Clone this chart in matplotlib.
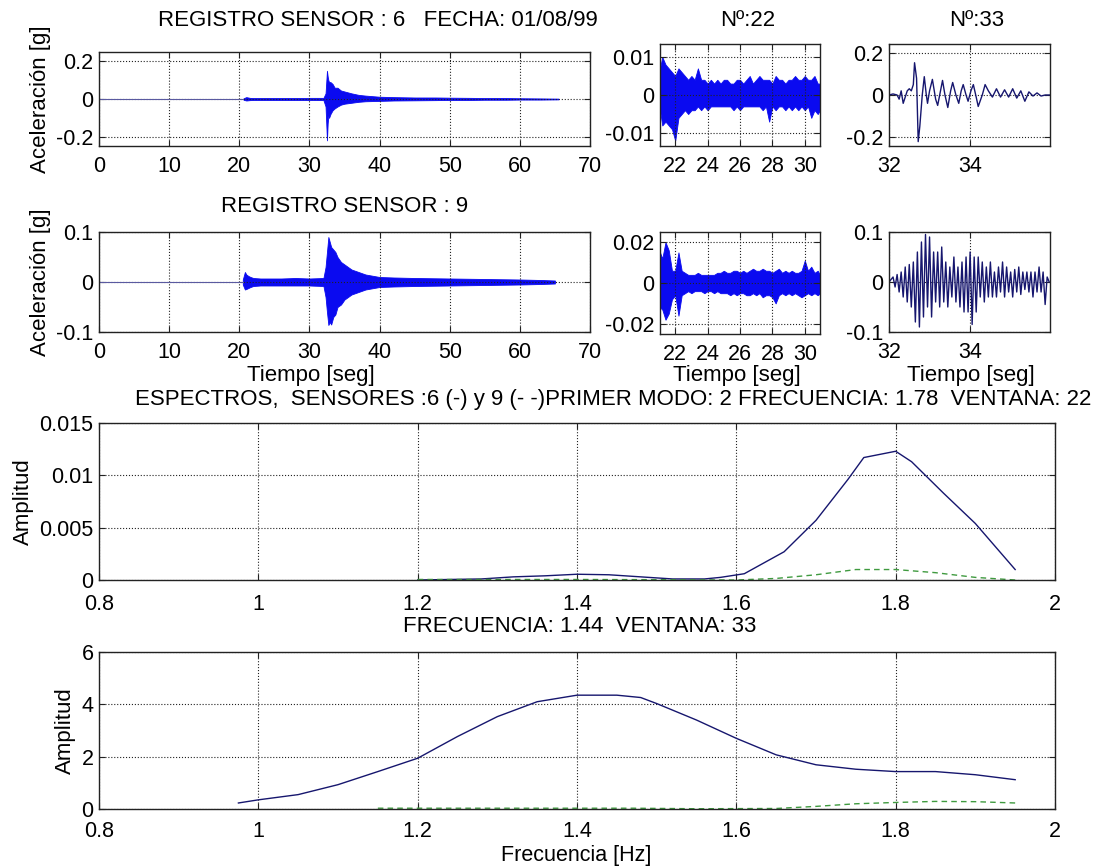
import matplotlib
matplotlib.use("Agg")
import matplotlib.pyplot as plt

plt.rcParams['font.family'] = ['Liberation Sans', 'DejaVu Sans']

# ---- registro completo, sensor 6 (envolvente) ----
t6_flat = [0, 20.6]
t6 = [20.6, 21.0, 21.5, 22, 24, 26, 28, 30, 32.0, 32.3, 32.5, 32.6, 32.7, 32.8, 33.0, 33.3, 33.6,
      34.0, 34.5, 35, 36, 37, 38, 40, 42, 45, 48, 50, 53, 55, 58, 60, 63, 65.5]
up6 = [0.004, 0.01, 0.006, 0.005, 0.005, 0.005, 0.005, 0.006, 0.006, 0.03, 0.15, 0.12, 0.1, 0.09, 0.09,
       0.08, 0.06, 0.06, 0.045, 0.04, 0.03, 0.022, 0.018, 0.012, 0.01, 0.008, 0.008, 0.007, 0.006, 0.005,
       0.005, 0.004, 0.003, 0.002]
lo6 = [-0.004, -0.008, -0.006, -0.005, -0.005, -0.005, -0.005, -0.005, -0.006, -0.04, -0.22, -0.13, -0.09,
       -0.1, -0.08, -0.06, -0.05, -0.04, -0.03, -0.025, -0.02, -0.015, -0.012, -0.01, -0.008, -0.007, -0.006,
       -0.005, -0.005, -0.004, -0.004, -0.003, -0.003, -0.002]

# ---- registro completo, sensor 9 ----
t9_flat = [0, 20.5]
t9 = [20.5, 20.8, 21.0, 21.3, 21.6, 22, 23, 24, 26, 28, 30, 32.0, 32.3, 32.5, 32.7, 32.9, 33.1, 33.4,
      33.7, 34.0, 34.5, 35, 35.5, 36, 37, 38, 40, 42, 45, 50, 55, 60, 63, 65]
up9 = [0.005, 0.02, 0.015, 0.012, 0.01, 0.008, 0.007, 0.007, 0.007, 0.008, 0.007, 0.008, 0.03, 0.06, 0.09,
       0.08, 0.07, 0.065, 0.06, 0.05, 0.04, 0.035, 0.03, 0.025, 0.02, 0.015, 0.01, 0.009, 0.008, 0.007,
       0.006, 0.005, 0.004, 0.003]
lo9 = [-0.005, -0.015, -0.014, -0.012, -0.01, -0.008, -0.007, -0.007, -0.007, -0.007, -0.007, -0.008, -0.03,
       -0.06, -0.086, -0.08, -0.085, -0.07, -0.065, -0.05, -0.045, -0.035, -0.03, -0.025, -0.02, -0.015,
       -0.01, -0.009, -0.008, -0.007, -0.006, -0.005, -0.004, -0.003]

# ---- ventana 22 (envolventes) ----
t22 = [21.06, 21.2, 21.4, 21.6, 21.8, 22.0, 22.2, 22.4, 22.6, 22.8,
       23.0, 23.2, 23.4, 23.6, 23.8, 24.0, 24.2, 24.4, 24.6, 24.8,
       25.0, 25.2, 25.4, 25.6, 25.8, 26.0, 26.2, 26.4, 26.6, 26.8,
       27.0, 27.2, 27.4, 27.6, 27.8, 28.0, 28.2, 28.4, 28.6, 28.8,
       29.0, 29.2, 29.4, 29.6, 29.8, 30.0, 30.2, 30.4, 30.6, 30.8, 30.94]
up22_6 = [0.007, 0.010, 0.008, 0.007, 0.006, 0.005, 0.007, 0.006, 0.005, 0.004,
          0.005, 0.004, 0.007, 0.004, 0.004, 0.003, 0.004, 0.003, 0.004, 0.003,
          0.004, 0.004, 0.003, 0.003, 0.004, 0.004, 0.003, 0.004, 0.005, 0.003,
          0.004, 0.005, 0.004, 0.004, 0.004, 0.003, 0.005, 0.004, 0.004, 0.003,
          0.004, 0.004, 0.005, 0.004, 0.004, 0.005, 0.004, 0.004, 0.005, 0.003, 0.003]
lo22_6 = [-0.004, -0.008, -0.007, -0.008, -0.009, -0.012, -0.006, -0.005, -0.004, -0.005,
          -0.004, -0.004, -0.003, -0.004, -0.003, -0.004, -0.003, -0.003, -0.003, -0.003,
          -0.003, -0.003, -0.003, -0.004, -0.003, -0.004, -0.003, -0.003, -0.003, -0.003,
          -0.003, -0.003, -0.004, -0.003, -0.007, -0.003, -0.004, -0.003, -0.003, -0.004,
          -0.003, -0.004, -0.003, -0.004, -0.003, -0.004, -0.003, -0.006, -0.004, -0.005, -0.004]
up22_9 = [0.015, 0.012, 0.020, 0.016, 0.006, 0.006, 0.015, 0.006, 0.005, 0.004,
          0.004, 0.004, 0.005, 0.004, 0.004, 0.004, 0.004, 0.004, 0.005, 0.005,
          0.006, 0.005, 0.005, 0.006, 0.006, 0.005, 0.006, 0.005, 0.006, 0.007,
          0.006, 0.006, 0.007, 0.006, 0.006, 0.005, 0.006, 0.007, 0.005, 0.006,
          0.005, 0.006, 0.005, 0.005, 0.006, 0.011, 0.006, 0.008, 0.005, 0.006, 0.004]
lo22_9 = [-0.012, -0.013, -0.018, -0.015, -0.008, -0.006, -0.016, -0.006, -0.005, -0.004,
          -0.005, -0.004, -0.004, -0.004, -0.005, -0.004, -0.004, -0.005, -0.004, -0.005,
          -0.005, -0.005, -0.006, -0.005, -0.006, -0.005, -0.005, -0.006, -0.006, -0.005,
          -0.006, -0.005, -0.007, -0.006, -0.006, -0.007, -0.010, -0.006, -0.005, -0.006,
          -0.005, -0.006, -0.005, -0.006, -0.007, -0.006, -0.005, -0.006, -0.005, -0.006, -0.005]

# ---- ventana 33 ----
t33_6 = [32.0, 32.1, 32.2, 32.25, 32.3, 32.35, 32.45, 32.5, 32.55, 32.6, 32.63, 32.68, 32.72, 32.76,
         32.82, 32.87, 32.92, 32.95, 33.0, 33.07, 33.15, 33.2, 33.27, 33.32, 33.38, 33.45, 33.52, 33.57,
         33.65, 33.72, 33.78, 33.83, 33.9, 33.95, 34.02, 34.08, 34.15, 34.2, 34.3, 34.37, 34.45, 34.55,
         34.65, 34.75, 34.85, 34.95, 35.05, 35.15, 35.25, 35.35, 35.45, 35.55, 35.65, 35.75, 35.85, 35.96]
a33_6 = [0.0, 0.005, 0.0, -0.02, 0.02, -0.04, 0.02, 0.03, 0.02, 0.05, 0.155, 0.08, -0.224, -0.15,
         0.0, 0.088, 0.0, -0.04, 0.02, 0.075, -0.02, -0.05, 0.02, 0.07, 0.0, -0.06, 0.02, 0.06,
         0.0, -0.04, 0.02, 0.05, 0.0, -0.03, 0.02, 0.05, -0.01, -0.055, 0.0, 0.05, 0.02, -0.01,
         0.03, -0.01, 0.025, -0.01, 0.03, -0.015, 0.02, -0.03, 0.015, -0.005, 0.01, -0.005, 0.0, 0.0]
t33_9 = [32.00, 32.05, 32.10, 32.15, 32.20, 32.25, 32.30, 32.35, 32.40, 32.45,
         32.50, 32.55, 32.60, 32.65, 32.70, 32.75, 32.80, 32.85, 32.90, 32.95,
         33.00, 33.05, 33.10, 33.15, 33.20, 33.25, 33.30, 33.35, 33.40, 33.45,
         33.50, 33.55, 33.60, 33.65, 33.70, 33.75, 33.80, 33.85, 33.90, 33.95,
         34.00, 34.05, 34.10, 34.15, 34.20, 34.25, 34.30, 34.35, 34.40, 34.45,
         34.50, 34.55, 34.60, 34.65, 34.70, 34.75, 34.80, 34.85, 34.90, 34.95,
         35.00, 35.05, 35.10, 35.15, 35.20, 35.25, 35.30, 35.35, 35.40, 35.45,
         35.50, 35.55, 35.60, 35.65, 35.70, 35.75, 35.80, 35.85, 35.90, 35.95]
a33_9 = [0.0, 0.005, 0.01, -0.01, 0.015, -0.02, 0.02, -0.03, 0.03, -0.04,
         0.035, -0.05, 0.04, -0.08, 0.06, -0.09, 0.08, -0.07, 0.095, -0.05,
         0.09, -0.07, 0.06, -0.04, 0.06, -0.05, 0.07, -0.04, 0.04, -0.05,
         0.03, -0.03, 0.05, -0.04, 0.03, -0.05, 0.04, -0.06, 0.05, -0.06,
         0.06, -0.085, 0.05, -0.06, 0.05, -0.03, 0.04, -0.04, 0.03, -0.03,
         0.04, -0.03, 0.02, -0.03, 0.03, -0.02, 0.04, -0.03, 0.03, -0.02,
         0.02, -0.03, 0.025, -0.02, 0.03, -0.025, 0.02, -0.015, 0.02, -0.02,
         0.02, -0.03, 0.02, -0.02, 0.03, -0.02, 0.02, -0.045, 0.01, 0.0]

# ---- espectros ----
f1_s6 = [1.2, 1.28, 1.32, 1.36, 1.40, 1.44, 1.48, 1.52, 1.56, 1.58, 1.61, 1.66, 1.70, 1.74, 1.76, 1.78,
         1.80, 1.82, 1.86, 1.90, 1.95]
s1_s6 = [0.0, 0.0001, 0.0003, 0.0004, 0.00055, 0.0005, 0.0003, 0.0001, 0.0001, 0.00025, 0.0006, 0.0027,
         0.0057, 0.0096, 0.0117, 0.012, 0.0123, 0.0113, 0.0083, 0.0054, 0.001]
f1_s9 = [1.2, 1.3, 1.4, 1.5, 1.6, 1.65, 1.70, 1.75, 1.80, 1.85, 1.90, 1.95]
s1_s9 = [0.00005, 0.00005, 0.00005, 0.00003, 0.0, 0.00015, 0.0005, 0.001, 0.001, 0.0007, 0.00025, 0.0]

f2_s6 = [0.975, 1.0, 1.05, 1.10, 1.15, 1.20, 1.25, 1.30, 1.35, 1.40, 1.45, 1.48, 1.50, 1.55, 1.60, 1.65,
         1.70, 1.75, 1.80, 1.85, 1.90, 1.95]
s2_s6 = [0.23, 0.35, 0.55, 0.93, 1.43, 1.94, 2.77, 3.53, 4.1, 4.35, 4.35, 4.26, 4.03, 3.4, 2.7, 2.07,
         1.69, 1.52, 1.43, 1.43, 1.31, 1.12]
f2_s9 = [1.15, 1.25, 1.35, 1.47, 1.55, 1.65, 1.70, 1.75, 1.80, 1.85, 1.90, 1.95]
s2_s9 = [0.03, 0.03, 0.03, 0.03, 0.01, 0.02, 0.1, 0.2, 0.25, 0.29, 0.28, 0.23]

W, H = 1108, 868
fig = plt.figure(figsize=(W / 100, H / 100), dpi=100)


def box(l, r, t, b):
    return [l / W, 1 - b / H, (r - l) / W, (b - t) / H]


def style(ax, xt, yt, xlim, ylim, xpad=7):
    ax.set_xlim(xlim)
    ax.set_ylim(ylim)
    ax.set_xticks(xt)
    ax.set_xticklabels([f'{v:g}' for v in xt])
    ax.set_yticks(yt)
    ax.set_yticklabels([f'{v:g}' for v in yt])
    ax.tick_params(direction='in', length=4, labelsize=15.5, top=True, right=True, color='#222222')
    ax.tick_params(axis='x', pad=xpad)
    ax.tick_params(axis='y', pad=4)
    ax.grid(True, linestyle=':', color='#222222', lw=0.8)
    for s in ax.spines.values():
        s.set_color('#222222')
        s.set_linewidth(1.0)


BLUE = '#0a0af0'
DARK = '#16166e'

# fila 1
ax = fig.add_axes(box(99, 590, 52, 146))
ax.plot(t6_flat, [0, 0], color='#5a5aa0', lw=0.8)
ax.fill_between(t6, lo6, up6, color=BLUE, lw=0.6)
style(ax, [0, 10, 20, 30, 40, 50, 60, 70], [-0.2, 0, 0.2], (0, 70), (-0.25, 0.25))
ax.set_ylabel('Aceleración [g]', fontsize=16, labelpad=4)

ax = fig.add_axes(box(660, 820, 44, 146))
ax.fill_between(t22, lo22_6, up22_6, color=BLUE, lw=0.6)
style(ax, [22, 24, 26, 28, 30], [-0.01, 0, 0.01], (21.06, 30.94), (-0.0134, 0.0134))

ax = fig.add_axes(box(889, 1050, 44, 146))
ax.plot(t33_6, a33_6, color=DARK, lw=1.0)
style(ax, [32, 34], [-0.2, 0, 0.2], (32, 35.97), (-0.245, 0.245))

# fila 2
ax = fig.add_axes(box(99, 590, 232, 332))
ax.plot(t9_flat, [0, 0], color='#5a5aa0', lw=0.8)
ax.fill_between(t9, lo9, up9, color=BLUE, lw=0.6)
style(ax, [0, 10, 20, 30, 40, 50, 60, 70], [-0.1, 0, 0.1], (0, 70), (-0.1, 0.1))
ax.set_ylabel('Aceleración [g]', fontsize=16, labelpad=4)

ax = fig.add_axes(box(660, 820, 232, 334))
ax.fill_between(t22, lo22_9, up22_9, color=BLUE, lw=0.6)
style(ax, [22, 24, 26, 28, 30], [-0.02, 0, 0.02], (21.06, 30.94), (-0.025, 0.025))

ax = fig.add_axes(box(889, 1050, 232, 332))
ax.plot(t33_9, a33_9, color=DARK, lw=1.0)
style(ax, [32, 34], [-0.1, 0, 0.1], (32, 35.97), (-0.1, 0.1))

# espectros
fticks = [0.8, 1, 1.2, 1.4, 1.6, 1.8, 2]
ax = fig.add_axes(box(99, 1055, 423, 580))
ax.plot(f1_s6, s1_s6, color=DARK, lw=1.0)
ax.plot(f1_s9, s1_s9, color='#3f9a3f', lw=1.0, ls=(0, (4, 3)))
style(ax, fticks, [0, 0.005, 0.01, 0.015], (0.8, 2), (0, 0.015), xpad=10)
ax.set_ylabel('Amplitud', fontsize=16, labelpad=4)

ax = fig.add_axes(box(99, 1055, 652, 809))
ax.plot(f2_s6, s2_s6, color=DARK, lw=1.0)
ax.plot(f2_s9, s2_s9, color='#3f9a3f', lw=1.0, ls=(0, (4, 3)))
style(ax, fticks, [0, 2, 4, 6], (0.8, 2), (0, 6), xpad=8.5)
ax.set_ylabel('Amplitud', fontsize=16, labelpad=4)


# textos
def ftext(x, y, s, size=16):
    fig.text(x / W, 1 - y / H, s, ha='center', va='center', fontsize=size)


ftext(378, 20, 'REGISTRO SENSOR : 6   FECHA: 01/08/99')
ftext(748, 20, 'Nº:22')
ftext(977, 20, 'Nº:33')
ftext(345, 207, 'REGISTRO SENSOR : 9')
ftext(311, 376, 'Tiempo [seg]')
ftext(737, 376, 'Tiempo [seg]')
ftext(971, 376, 'Tiempo [seg]')
ftext(613, 399, 'ESPECTROS,  SENSORES :6 (-) y 9 (- -)PRIMER MODO: 2 FRECUENCIA: 1.78  VENTANA: 22')
ftext(580, 627, 'FRECUENCIA: 1.44  VENTANA: 33')
ftext(576, 856, 'Frecuencia [Hz]', size=15.5)

fig.savefig('out.png', dpi=100, facecolor='white')
